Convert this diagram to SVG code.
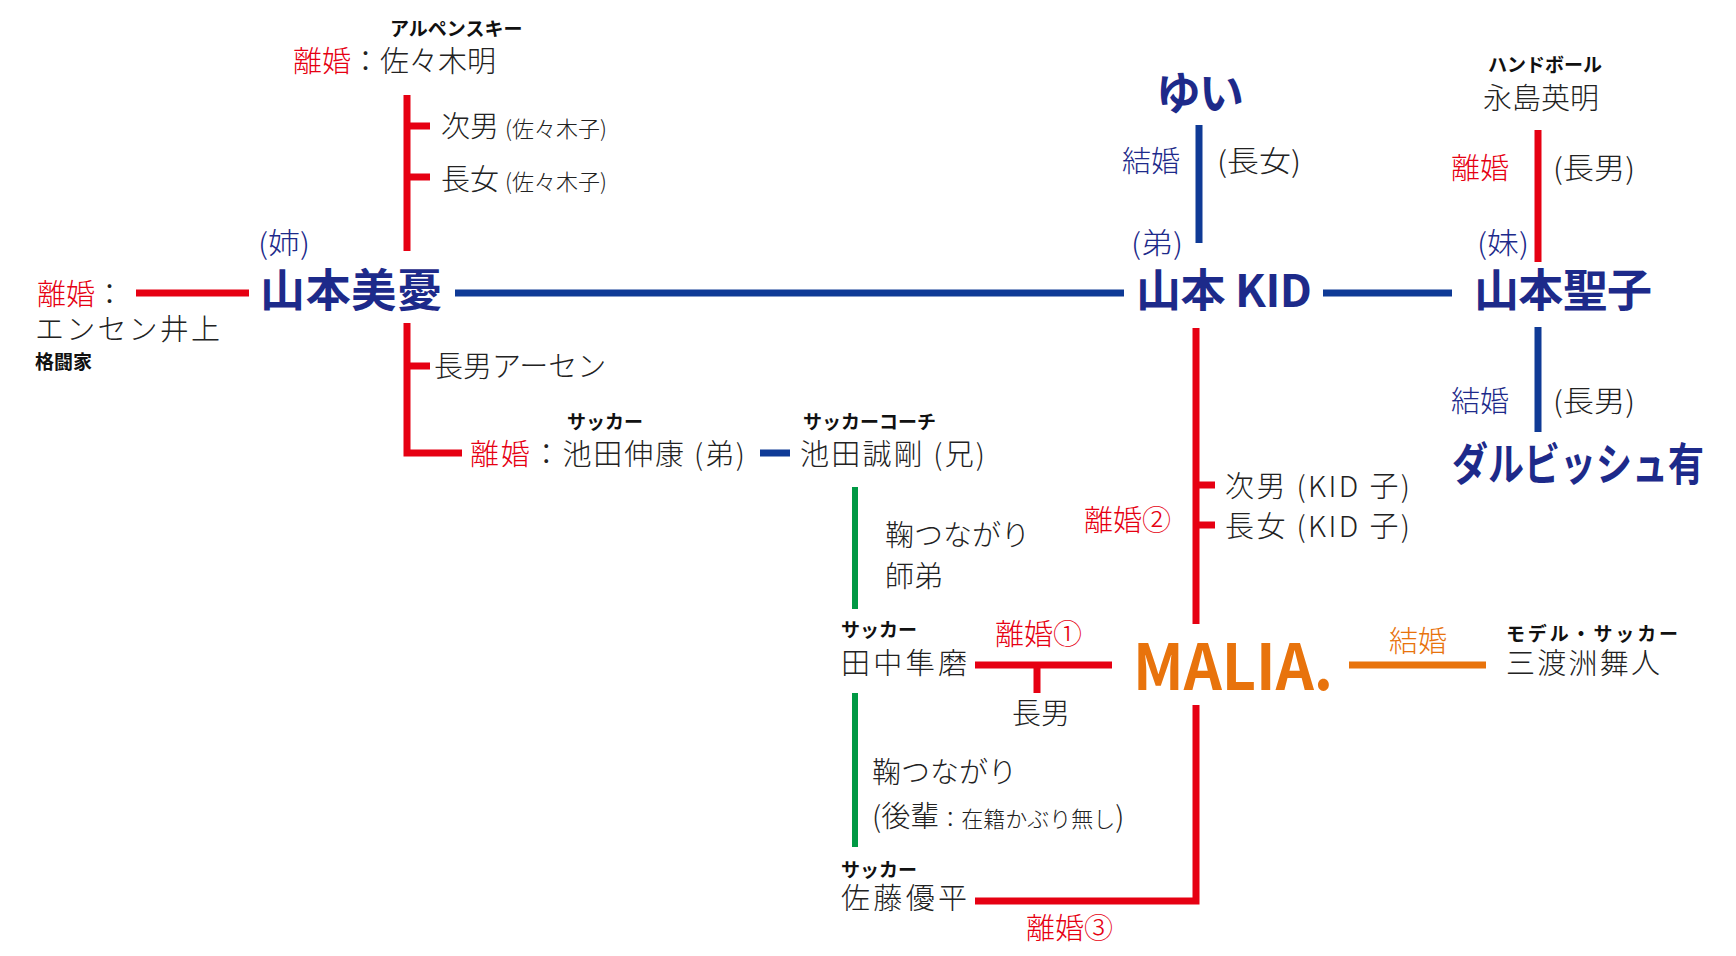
<svg xmlns="http://www.w3.org/2000/svg" width="1736" height="956" viewBox="0 0 1736 956">
<style>
text{font-family:"Noto Sans CJK JP","Noto Sans",sans-serif;fill:#222}
.r{fill:#e60012}.b{fill:#1d2a8a}.o{fill:#e8730c}
.big{font-size:45px;font-weight:700;fill:#1d2a8a}
.m{font-size:29px;font-weight:300}
.s{font-size:22px;font-weight:300}
.t{font-size:19px;font-weight:700;fill:#111}
.lr{stroke:#e60012;stroke-width:7;fill:none}
.lb{stroke:#0f3a96;stroke-width:7;fill:none}
.lg{stroke:#009944;stroke-width:6;fill:none}
.lo{stroke:#e8730c;stroke-width:7;fill:none}
</style>
<rect width="1736" height="956" fill="#fff"/>
<g id="connectors">
<path class="lb" d="M455 293H1124M1323 293H1452M1199 125V243M1538 327V432M760 453H790"/>
<path class="lr" d="M136 293H249M407 95V251M407 126H430M407 177H430M407 323V453H462M407 366H430M1538 130V262M1196 328V624M1196 485H1215M1196 525H1215M975 665H1112M1037 665V693M1196 705V901H975"/>
<path class="lg" d="M855 487V609M855 693V847"/>
<path class="lo" d="M1349 665H1486"/>
</g>
<g id="miyu"><text class="b m" x="258" y="254" textLength="52" lengthAdjust="spacingAndGlyphs">(姉)</text><text class="big" x="260" y="307" textLength="182">山本美憂</text></g>
<g id="kid"><text class="b m" x="1131" y="254" textLength="52" lengthAdjust="spacingAndGlyphs">(弟)</text><text class="big" x="1136" y="307" textLength="176">山本 KID</text></g>
<g id="seiko"><text class="b m" x="1477" y="254" textLength="52" lengthAdjust="spacingAndGlyphs">(妹)</text><text class="big" x="1474" y="307" textLength="178">山本聖子</text></g>
<g id="yui"><text class="big" x="1156" y="110" textLength="88">ゆい</text><text class="b m" x="1122" y="172">結婚</text><text class="m" x="1217" y="172" textLength="84" lengthAdjust="spacingAndGlyphs">(長女)</text></g>
<g id="nagashima"><text class="t" x="1488" y="72">ハンドボール</text><text class="m" x="1483" y="109">永島英明</text><text class="r m" x="1451" y="179">離婚</text><text class="m" x="1553" y="179" textLength="82" lengthAdjust="spacingAndGlyphs">(長男)</text></g>
<g id="darvish"><text class="b m" x="1451" y="412">結婚</text><text class="m" x="1553" y="412" textLength="82" lengthAdjust="spacingAndGlyphs">(長男)</text><text class="big" x="1452" y="481" textLength="252" lengthAdjust="spacingAndGlyphs">ダルビッシュ有</text></g>
<g id="inoue"><text class="m" x="37" y="305"><tspan class="r">離婚</tspan>：</text><text class="m" x="35" y="340" textLength="185">エンセン井上</text><text class="t" x="35" y="369">格闘家</text></g>
<g id="sasaki"><text class="t" x="390" y="36">アルペンスキー</text><text class="m" x="293" y="72"><tspan class="r">離婚</tspan>：佐々木明</text>
<text class="m" x="441" y="137">次男<tspan class="s" dx="6">(佐々木子)</tspan></text><text class="m" x="441" y="190">長女<tspan class="s" dx="6">(佐々木子)</tspan></text></g>
<g id="arsen"><text class="m" x="434" y="377">長男アーセン</text></g>
<g id="ikeda"><text class="t" x="567" y="429">サッカー</text><text class="m" x="470" y="465" textLength="275"><tspan class="r">離婚</tspan>：池田伸康 (弟)</text></g>
<g id="ikeda2"><text class="t" x="803" y="429">サッカーコーチ</text><text class="m" x="800" y="465" textLength="185">池田誠剛 (兄)</text></g>
<g id="green1"><text class="m" x="885" y="546">鞠つながり</text><text class="m" x="885" y="587">師弟</text></g>
<g id="tanaka"><text class="t" x="841" y="637">サッカー</text><text class="m" x="841" y="674" textLength="126">田中隼磨</text><text class="r m" x="995" y="645">離婚①</text><text class="m" x="1012" y="724">長男</text></g>
<g id="kidkids"><text class="m" x="1225" y="497" textLength="185">次男 (KID 子)</text><text class="m" x="1225" y="537" textLength="185">長女 (KID 子)</text><text class="r m" x="1084" y="531">離婚②</text></g>
<g id="malia"><text x="1133" y="690" font-size="64" font-weight="700" class="o" textLength="200" lengthAdjust="spacingAndGlyphs">MALIA.</text></g>
<g id="miwatari"><text class="o m" x="1389" y="652">結婚</text><text class="t" x="1506" y="641" textLength="172">モデル・サッカー</text><text class="m" x="1506" y="674" textLength="154">三渡洲舞人</text></g>
<g id="green2"><text class="m" x="872" y="783">鞠つながり</text><text class="m" x="872" y="827">(後輩<tspan class="s">：在籍かぶり無し</tspan>)</text></g>
<g id="sato"><text class="t" x="841" y="877">サッカー</text><text class="m" x="841" y="909" textLength="126">佐藤優平</text><text class="r m" x="1026" y="939">離婚③</text></g>
</svg>
